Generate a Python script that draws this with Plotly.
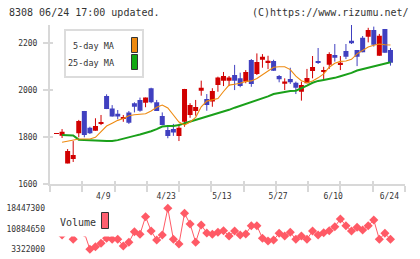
import plotly.graph_objects as go

# ---------------- data ----------------
date_labels = ["4/9", "4/23", "5/13", "5/27", "6/10", "6/24"]
date_pos = [8.4, 19.7, 29.7, 39.8, 49.7, 59.8]

opens = [1815, 1807, 1689, 1708, 1817, 1912, 1841, 1828, 1860, 1976,
         1923, 1900, 1879, 1906, 1945, 1959, 1947, 2009, 1949, 1891,
         1831, 1835, 1806, 1866, 1895, 1912, 1998, 1963, 1952, 2023,
         2041, 2041, 2065, 2051, 2037, 2129, 2069, 2130, 2116, 2125,
         2061, 2028, 2048, 2032, 1994, 2030, 2082, 2125, 2078, 2109,
         2150, 2109, 2167, 2211, 2171, 2224, 2228, 2257, 2147, 2261,
         2171]
closes = [1818, 1824, 1742, 1725, 1869, 1810, 1817, 1848, 1864, 1920,
          1888, 1888, 1883, 1862, 1930, 1913, 1969, 1949, 1912, 1852,
          1806, 1820, 1841, 2006, 1937, 1929, 2011, 1937, 1997, 2055,
          2061, 2054, 2041, 2018, 2078, 2027, 2120, 2143, 2126, 2083,
          2047, 2037, 2034, 2011, 2023, 2052, 2099, 2116, 2086, 2154,
          2139, 2117, 2143, 2200, 2143, 2162, 2257, 2194, 2232, 2160,
          2117]
highs = [1818, 1835, 1750, 1784, 1874, 1912, 1845, 1881, 1895, 1983,
         1937, 1916, 1895, 1912, 1949, 1969, 1969, 2011, 1959, 1906,
         1845, 1857, 1857, 2006, 1945, 1959, 2041, 1984, 2009, 2058,
         2078, 2061, 2108, 2075, 2086, 2133, 2157, 2154, 2147, 2130,
         2065, 2051, 2096, 2037, 2037, 2091, 2146, 2180, 2100, 2162,
         2197, 2146, 2197, 2278, 2171, 2231, 2266, 2271, 2240, 2261,
         2180]
lows = [1815, 1797, 1689, 1695, 1800, 1800, 1814, 1828, 1852, 1920,
        1888, 1877, 1866, 1857, 1906, 1909, 1928, 1945, 1912, 1852,
        1796, 1806, 1784, 1845, 1883, 1892, 1977, 1913, 1930, 1994,
        2018, 2018, 2001, 2013, 2030, 2015, 2065, 2096, 2090, 2083,
        2034, 2001, 2027, 1984, 1956, 2030, 2051, 2112, 2044, 2091,
        2122, 2086, 2133, 2197, 2103, 2162, 2204, 2186, 2147, 2160,
        2105]
ma5 = [None, 1779, 1784, 1788, 1793, 1793, 1793, 1800, 1826, 1848,
       1860, 1872, 1880, 1892, 1896, 1898, 1900, 1912, 1928, 1937,
       1925, 1895, 1865, 1852, 1865, 1885, 1930, 1954, 1959, 1965,
       1995, 2022, 2026, 2030, 2038, 2040, 2050, 2065, 2083, 2098,
       2100, 2100, 2088, 2060, 2041, 2032, 2040, 2053, 2070, 2098,
       2115, 2123, 2125, 2132, 2155, 2168, 2184, 2192, 2197, 2194,
       2193]
ma25 = [None, 1810, 1810, 1808, 1790, 1788, 1787, 1786, 1785, 1784,
        1784, 1788, 1795, 1800, 1806, 1812, 1818, 1826, 1835, 1846,
        1848, 1848, 1852, 1859, 1866, 1872, 1880, 1887, 1895, 1902,
        1910, 1917, 1926, 1934, 1941, 1948, 1958, 1966, 1974, 1984,
        1989, 1992, 1997, 1998, 2008, 2020, 2032, 2040, 2044, 2047,
        2053, 2060, 2066, 2074, 2084, 2090, 2096, 2102, 2108, 2116,
        2119]
volume = [10500000, 8600000, 11000000, 7010000, 12000000, 9400000, 3322000, 4280000, 5540000, 7380000,
          7010000, 7010000, 4540000, 5900000, 9810000, 8860000, 15350000, 10070000, 6750000, 8600000,
          18447300, 7010000, 5280000, 16600000, 12660000, 5900000, 12290000, 9340000, 8860000, 9590000,
          10180000, 8230000, 10070000, 8600000, 8970000, 12030000, 12030000, 7380000, 6380000, 6750000,
          9220000, 8230000, 9590000, 7010000, 8230000, 7010000, 10070000, 8600000, 9450000, 10180000,
          11660000, 14500000, 12030000, 10070000, 11440000, 10440000, 12030000, 14130000, 7010000, 9220000,
          7010000]
price_ticks = [1600, 1800, 2000, 2200]
vol_ticks = [3322000, 10884650, 18447300]

# ---------------- helpers ----------------
W, H = 420, 259
def px(x): return x / W
def py(y): return 1 - y / H

idx = list(range(len(opens)))
RED, BLUE = "#D10000", "#4040C0"
ORANGE, GREEN, VOLC = "#EE8A10", "#1AA01A", "#FF5A66"
FONT = "DejaVu Sans Mono"
TXT = "#333333"
AX = "#d8d8d8"

up = [c >= o for o, c in zip(opens, closes)]
fig = go.Figure()
fig.add_trace(go.Bar(
    x=idx, y=[abs(c - o) for o, c in zip(opens, closes)],
    base=[min(o, c) for o, c in zip(opens, closes)], width=0.9,
    marker=dict(color=[RED if u else BLUE for u in up], line=dict(width=0)),
    xaxis="x", yaxis="y"))
for col, flag in ((RED, True), (BLUE, False)):
    xs, ys = [], []
    for i in idx:
        if up[i] == flag:
            xs += [i, i, None]
            ys += [lows[i], highs[i], None]
    fig.add_trace(go.Scatter(x=xs, y=ys, mode="lines",
                             line=dict(color=col, width=1), xaxis="x", yaxis="y"))
fig.add_trace(go.Scatter(x=idx, y=ma25, mode="lines", line=dict(color=GREEN, width=2),
                         xaxis="x", yaxis="y"))
fig.add_trace(go.Scatter(x=idx, y=ma5, mode="lines", line=dict(color=ORANGE, width=1.1),
                         xaxis="x", yaxis="y"))
fig.add_trace(go.Scatter(x=idx, y=volume, mode="lines+markers",
                         line=dict(color=VOLC, width=1),
                         marker=dict(symbol="diamond", size=7, color=VOLC),
                         xaxis="x2", yaxis="y2", cliponaxis=False))
# invisible trace to carry the inner tick overlay axes
fig.add_trace(go.Scatter(x=[idx[0]], y=[price_ticks[0]], mode="markers",
                         marker=dict(opacity=0), xaxis="x3", yaxis="y3", hoverinfo="skip"))

xr = [-1.168, 62.61]
yr = [1600, 2277.9]
xdt = (62.6 - xr[0]) / 11
common_x = dict(domain=[px(50), px(405)], range=xr, automargin=False,
                tickmode="linear", tick0=xr[0], dtick=xdt, tickwidth=2, tickcolor=AX,
                showticklabels=False, showgrid=False, zeroline=False)
common_y = dict(domain=[py(184.3), py(25)], range=yr, automargin=False,
                tickvals=price_ticks, tickwidth=2, tickcolor=AX,
                showgrid=False, zeroline=False)
fig.update_layout(
    width=W, height=H, margin=dict(l=0, r=0, t=0, b=0, pad=0, autoexpand=False),
    paper_bgcolor="white", plot_bgcolor="white", showlegend=False,
    xaxis=dict(**common_x, anchor="y", showline=True, linecolor=AX, linewidth=2,
               ticks="outside", ticklen=6),
    yaxis=dict(**common_y, anchor="x", showline=True, linecolor=AX, linewidth=2,
               ticks="outside", ticklen=5, ticktext=[str(v) for v in price_ticks],
               tickfont=dict(family=FONT, size=8, color=TXT), ticklabelstandoff=4),
    xaxis3=dict(**common_x, anchor="y3", overlaying="x", showline=False,
                ticks="inside", ticklen=3),
    yaxis3=dict(**common_y, anchor="x3", overlaying="y", showline=False,
                ticks="inside", ticklen=3, showticklabels=False),
    xaxis2=dict(domain=[px(50), px(405)], range=xr, anchor="y2", side="top", automargin=False,
                tickvals=date_pos, ticktext=date_labels, ticks="",
                tickfont=dict(family=FONT, size=8, color=TXT), ticklabelstandoff=3,
                showline=False, showgrid=False, zeroline=False),
    yaxis2=dict(domain=[py(252), py(205)], range=[2325943, 19664703], anchor="x2", automargin=False,
                tickvals=vol_ticks, ticktext=[str(v) for v in vol_ticks], ticks="",
                tickfont=dict(family=FONT, size=8, color=TXT), ticklabelstandoff=4,
                showline=False, showgrid=False, zeroline=False),
)

shapes = [
    dict(type="rect", xref="paper", yref="paper", x0=px(65), x1=px(143), y0=py(77), y1=py(30),
         fillcolor="white", line=dict(color="#dcdcdc", width=2), layer="above"),
    dict(type="rect", xref="paper", yref="paper", x0=px(131.5), x1=px(137.5), y0=py(52.5), y1=py(37.5),
         fillcolor=ORANGE, line=dict(color="#333333", width=1), layer="above"),
    dict(type="rect", xref="paper", yref="paper", x0=px(131.5), x1=px(137.5), y0=py(69.5), y1=py(54.5),
         fillcolor="#12A812", line=dict(color="#333333", width=1), layer="above"),
    dict(type="rect", xref="paper", yref="paper", x0=px(51), x1=px(115), y0=py(236.5), y1=py(203),
         fillcolor="white", line=dict(width=0), layer="above"),
    dict(type="rect", xref="paper", yref="paper", x0=px(101.5), x1=px(108.5), y0=py(228.5), y1=py(212.5),
         fillcolor="#FF6070", line=dict(color="#333333", width=1), layer="above"),
]
ann = [
    dict(text="8308 06/24 17:00 updated.", x=px(7), y=py(12.7), xanchor="left", size=10),
    dict(text="(C)https://www.rizumu.net/", x=px(411), y=py(12.7), xanchor="right", size=10),
    dict(text="5-day MA", x=px(116), y=py(46), xanchor="right", size=8.5),
    dict(text="25-day MA", x=px(116), y=py(63.3), xanchor="right", size=8.5),
    dict(text="Volume", x=px(58), y=py(222.7), xanchor="left", size=10),
]
fig.update_layout(
    shapes=shapes,
    annotations=[dict(text=a["text"], x=a["x"], y=a["y"], xref="paper", yref="paper",
                      xanchor=a["xanchor"], yanchor="middle", showarrow=False,
                      font=dict(family=FONT, size=a["size"], color=TXT)) for a in ann],
)

fig.write_html("out.html")
